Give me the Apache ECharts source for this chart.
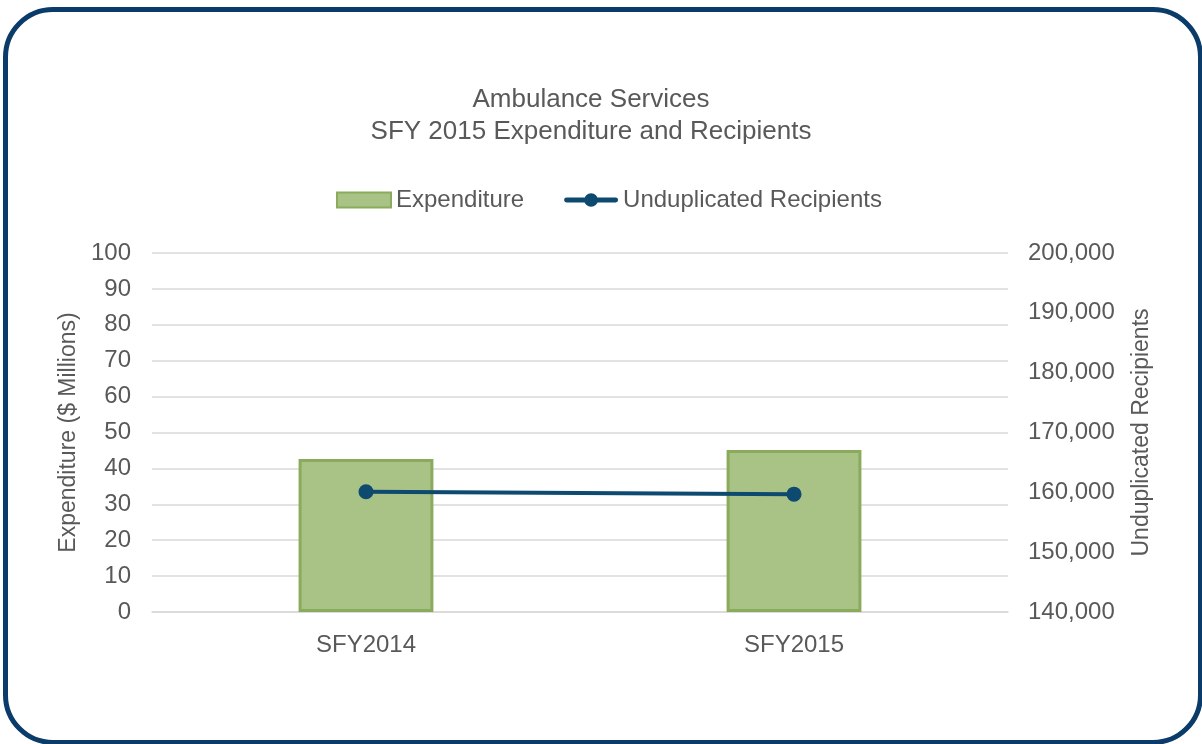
<!DOCTYPE html>
<html>
<head>
<meta charset="utf-8">
<script src="https://cdn.jsdelivr.net/npm/echarts@6/dist/echarts.min.js"></script>
<style>
  html, body { margin: 0; padding: 0; background: #fff; overflow: hidden; }
  #frame {
    position: absolute; left: 3px; top: 7px; width: 1200px; height: 738px;
    box-sizing: border-box; border: 5px solid #0b3b69; border-radius: 50px;
  }
  #chart { position: absolute; left: 0; top: 0; width: 1202px; height: 744px; }
</style>
</head>
<body>
<div id="frame"></div>
<div id="chart"></div>
<script>
// valores
var years = ['SFY2014', 'SFY2015'];
var expenditure = [42.6, 45.1];
var recipients = [160100, 159700];

var myChart = echarts.init(document.getElementById('chart'));
var grey = '#595959';
var navy = '#0e4a70';
var font = 'Liberation Sans, Arial, sans-serif';

// icono de leyenda: linea gruesa con circulo al centro
var lineIcon = 'path://M2,4.5 L21,4.5 L21,9.5 L2,9.5 A2.5,2.5 0 0 1 2,4.5 Z ' +
  'M33,4.5 L52,4.5 A2.5,2.5 0 0 1 52,9.5 L33,9.5 Z ' +
  'M27,0 A7,7 0 1 1 27,14 A7,7 0 1 1 27,0 Z';

option = {
  animation: false,
  textStyle: { fontFamily: font },
  title: {
    text: 'Ambulance Services\nSFY 2015 Expenditure and Recipients',
    left: 586,
    textAlign: 'center',
    top: 79,
    textStyle: { color: grey, fontSize: 26, fontWeight: 'normal', lineHeight: 32, fontFamily: font }
  },
  legend: {
    top: 183,
    left: 331,
    itemWidth: 54,
    itemHeight: 15,
    itemGap: 40,
    textStyle: { color: grey, fontSize: 24, fontFamily: font },
    data: [
      { name: 'Expenditure', icon: 'rect' },
      { name: 'Unduplicated Recipients', icon: lineIcon, itemStyle: { color: navy } }
    ]
  },
  grid: { left: 152, right: 194, top: 253, bottom: 132 },
  xAxis: {
    type: 'category',
    data: years,
    axisLine: { lineStyle: { color: '#d9d9d9', width: 1.5 } },
    axisTick: { show: false },
    axisLabel: { color: grey, fontSize: 24, margin: 21 }
  },
  yAxis: [
    {
      type: 'value',
      min: 0, max: 100, interval: 10,
      name: 'Expenditure ($ Millions)',
      nameLocation: 'middle',
      nameGap: 70,
      nameTextStyle: { color: grey, fontSize: 23 },
      axisLabel: { color: grey, fontSize: 24, margin: 21 },
      splitLine: { lineStyle: { color: '#d9d9d9', width: 1.5 } }
    },
    {
      type: 'value',
      min: 140000, max: 200000, interval: 10000,
      name: 'Unduplicated Recipients',
      nameLocation: 'middle',
      nameGap: 122,
      nameRotate: 90,
      nameTextStyle: { color: grey, fontSize: 23 },
      axisLabel: {
        color: grey, fontSize: 24, margin: 20,
        formatter: function (v) { return v.toLocaleString('en-US'); }
      },
      splitLine: { show: false }
    }
  ],
  series: [
    {
      name: 'Expenditure',
      type: 'bar',
      data: expenditure,
      barWidth: '31.5%',
      itemStyle: { color: '#a9c285', borderColor: '#8aab5b', borderWidth: 3 }
    },
    {
      name: 'Unduplicated Recipients',
      type: 'line',
      yAxisIndex: 1,
      data: recipients,
      symbol: 'circle',
      symbolSize: 15,
      lineStyle: { color: navy, width: 4 },
      itemStyle: { color: navy }
    }
  ]
};
myChart.setOption(option);
</script>
</body>
</html>
